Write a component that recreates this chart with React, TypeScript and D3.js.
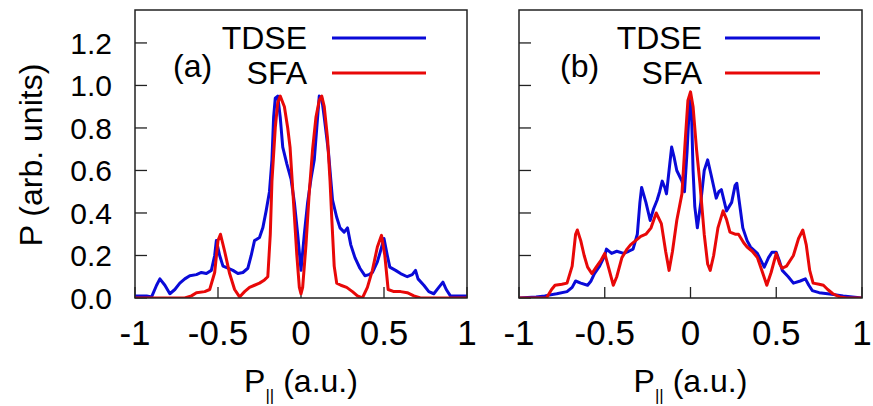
import React, { useEffect, useRef } from 'react';
import * as d3 from 'd3';

const width = 873;
const height = 406;

// [P_parallel, P] pairs
const tdseA: [number, number][] = [
  [-1.0, 0.01], [-0.93, 0.01], [-0.9, 0.005], [-0.87, 0.06], [-0.85, 0.09], [-0.82, 0.06],
  [-0.79, 0.02], [-0.76, 0.04], [-0.73, 0.07], [-0.7, 0.09], [-0.67, 0.105], [-0.63, 0.11],
  [-0.6, 0.12], [-0.57, 0.115], [-0.54, 0.13], [-0.52, 0.2], [-0.51, 0.27], [-0.49, 0.2],
  [-0.47, 0.15], [-0.44, 0.14], [-0.41, 0.13], [-0.38, 0.115], [-0.35, 0.12], [-0.32, 0.14],
  [-0.3, 0.2], [-0.28, 0.27], [-0.25, 0.285], [-0.23, 0.33], [-0.21, 0.41], [-0.19, 0.5],
  [-0.175, 0.65], [-0.165, 0.85], [-0.155, 0.94], [-0.14, 0.95], [-0.125, 0.85], [-0.11, 0.71],
  [-0.085, 0.63], [-0.06, 0.56], [-0.04, 0.45], [-0.02, 0.3], [0.0, 0.13], [0.02, 0.3],
  [0.04, 0.45], [0.06, 0.56], [0.08, 0.65], [0.095, 0.8], [0.11, 0.95], [0.125, 0.94],
  [0.14, 0.85], [0.165, 0.69], [0.19, 0.46], [0.215, 0.38], [0.235, 0.33], [0.26, 0.31],
  [0.28, 0.33], [0.3, 0.25], [0.325, 0.19], [0.355, 0.14], [0.385, 0.105], [0.41, 0.11],
  [0.43, 0.12], [0.46, 0.17], [0.475, 0.21], [0.5, 0.28], [0.52, 0.2], [0.535, 0.145],
  [0.57, 0.13], [0.6, 0.115], [0.64, 0.1], [0.67, 0.11], [0.69, 0.13], [0.705, 0.09],
  [0.74, 0.06], [0.77, 0.03], [0.8, 0.02], [0.83, 0.05], [0.855, 0.075], [0.875, 0.04],
  [0.9, 0.01], [0.95, 0.01], [1.0, 0.01],
];

const sfaA: [number, number][] = [
  [-1, 0], [-0.7, 0], [-0.66, 0.01], [-0.63, 0.025], [-0.58, 0.03], [-0.55, 0.04],
  [-0.52, 0.12], [-0.5, 0.27], [-0.485, 0.3], [-0.46, 0.22], [-0.43, 0.115], [-0.4, 0.04],
  [-0.37, 0.005], [-0.34, 0.03], [-0.31, 0.05], [-0.28, 0.06], [-0.25, 0.07], [-0.22, 0.085],
  [-0.2, 0.1], [-0.185, 0.3], [-0.175, 0.55], [-0.155, 0.8], [-0.14, 0.92], [-0.125, 0.95],
  [-0.1, 0.9], [-0.08, 0.8], [-0.066, 0.71], [-0.045, 0.45], [-0.025, 0.2], [-0.01, 0.05],
  [0, 0.02], [0.01, 0.05], [0.03, 0.25], [0.05, 0.5], [0.07, 0.7], [0.09, 0.85],
  [0.11, 0.93], [0.125, 0.95], [0.14, 0.9], [0.16, 0.75], [0.175, 0.55], [0.185, 0.38],
  [0.2, 0.15], [0.215, 0.07], [0.24, 0.06], [0.275, 0.05], [0.31, 0.03], [0.34, 0.01],
  [0.37, 0.0], [0.4, 0.05], [0.43, 0.13], [0.46, 0.24], [0.485, 0.295], [0.505, 0.2],
  [0.525, 0.04], [0.56, 0.03], [0.6, 0.03], [0.64, 0.025], [0.68, 0.01], [0.72, 0], [1, 0],
];

const tdseB: [number, number][] = [
  [-1, 0], [-0.9, 0.005], [-0.85, 0.01], [-0.78, 0.02], [-0.72, 0.03], [-0.69, 0.05],
  [-0.67, 0.08], [-0.64, 0.07], [-0.6, 0.06], [-0.58, 0.08], [-0.56, 0.115], [-0.53, 0.15],
  [-0.5, 0.2], [-0.49, 0.23], [-0.46, 0.21], [-0.43, 0.22], [-0.39, 0.21], [-0.36, 0.22],
  [-0.335, 0.23], [-0.31, 0.3], [-0.295, 0.45], [-0.285, 0.52], [-0.26, 0.45], [-0.235, 0.365],
  [-0.215, 0.42], [-0.195, 0.46], [-0.18, 0.5], [-0.165, 0.55], [-0.15, 0.52], [-0.14, 0.49],
  [-0.125, 0.6], [-0.11, 0.71], [-0.095, 0.66], [-0.08, 0.6], [-0.05, 0.55], [-0.035, 0.5],
  [-0.02, 0.69], [-0.005, 0.93], [0.005, 0.9], [0.015, 0.6], [0.025, 0.43], [0.04, 0.33],
  [0.06, 0.45], [0.08, 0.6], [0.1, 0.65], [0.12, 0.58], [0.15, 0.47], [0.165, 0.5],
  [0.18, 0.51], [0.21, 0.41], [0.24, 0.45], [0.26, 0.53], [0.27, 0.54], [0.29, 0.42],
  [0.305, 0.33], [0.33, 0.27], [0.35, 0.24], [0.39, 0.21], [0.43, 0.145], [0.455, 0.19],
  [0.475, 0.215], [0.5, 0.215], [0.52, 0.17], [0.535, 0.13], [0.57, 0.1], [0.6, 0.07],
  [0.64, 0.08], [0.67, 0.09], [0.69, 0.06], [0.71, 0.035], [0.75, 0.025], [0.8, 0.02],
  [0.89, 0.01], [1, 0],
];

const sfaB: [number, number][] = [
  [-1, 0], [-0.84, 0.0], [-0.81, 0.04], [-0.79, 0.06], [-0.75, 0.065], [-0.72, 0.07],
  [-0.69, 0.15], [-0.67, 0.3], [-0.66, 0.32], [-0.64, 0.27], [-0.62, 0.2], [-0.6, 0.145],
  [-0.575, 0.115], [-0.55, 0.145], [-0.52, 0.18], [-0.5, 0.21], [-0.48, 0.15], [-0.45, 0.06],
  [-0.43, 0.1], [-0.4, 0.19], [-0.37, 0.23], [-0.35, 0.25], [-0.32, 0.27], [-0.29, 0.29],
  [-0.26, 0.3], [-0.23, 0.33], [-0.2, 0.4], [-0.17, 0.35], [-0.145, 0.22], [-0.125, 0.13],
  [-0.105, 0.22], [-0.08, 0.365], [-0.05, 0.49], [-0.03, 0.75], [-0.015, 0.93], [0.0, 0.97],
  [0.015, 0.9], [0.035, 0.7], [0.055, 0.54], [0.08, 0.3], [0.1, 0.16], [0.115, 0.13],
  [0.135, 0.2], [0.16, 0.33], [0.19, 0.41], [0.21, 0.37], [0.23, 0.31], [0.26, 0.3],
  [0.28, 0.3], [0.31, 0.26], [0.33, 0.24], [0.36, 0.22], [0.39, 0.19], [0.42, 0.12],
  [0.445, 0.06], [0.47, 0.12], [0.5, 0.21], [0.52, 0.16], [0.535, 0.14], [0.56, 0.15],
  [0.6, 0.2], [0.63, 0.28], [0.655, 0.32], [0.675, 0.25], [0.695, 0.13], [0.715, 0.07],
  [0.75, 0.065], [0.775, 0.06], [0.8, 0.04], [0.83, 0.02], [0.87, 0.005], [0.91, 0], [1, 0],
];

const yTicks = [0, 0.2, 0.4, 0.6, 0.8, 1.0, 1.2];
const xTicks = [-1, -0.5, 0, 0.5, 1];
const seriesNames = ['TDSE', 'SFA'];
const panelLabels = ['(a)', '(b)'];

const blue = '#0a0ad8';
const red = '#e80808';
const font = '"Liberation Sans", Arial, Helvetica, sans-serif';
const ink = '#222';

const panels = [
  { left: 135, right: 467, label: panelLabels[0], tdse: tdseA, sfa: sfaA, yLabels: true, textRight: 307, labelX: 173, lineX: [332, 426] },
  { left: 519, right: 862, label: panelLabels[1], tdse: tdseB, sfa: sfaB, yLabels: false, textRight: 702, labelX: 560, lineX: [725, 820] },
];

const top = 10;
const bottom = 298;

const App = () => {
  const svgRef = useRef<SVGSVGElement>(null);

  useEffect(() => {
    const svg = d3.select(svgRef.current);
    svg.selectAll('*').remove();

    const yScale = d3.scaleLinear().domain([0, 1.355]).range([bottom, top]);

    panels.forEach((p, i) => {
      const xScale = d3.scaleLinear().domain([-1, 1]).range([p.left, p.right]);
      const g = svg.append('g');

      const clipId = `clip${i}`;
      svg.append('clipPath').attr('id', clipId)
        .append('rect')
        .attr('x', p.left).attr('y', top)
        .attr('width', p.right - p.left).attr('height', bottom - top);

      // y ticks (inward)
      g.selectAll('.yt').data(yTicks).enter().append('line')
        .attr('x1', p.left).attr('x2', p.left + 12)
        .attr('y1', d => yScale(d)).attr('y2', d => yScale(d))
        .attr('stroke', ink).attr('stroke-width', 1.3);

      if (p.yLabels) {
        g.selectAll('.yl').data(yTicks).enter().append('text')
          .attr('x', 112).attr('y', d => yScale(d))
          .attr('dy', '0.36em')
          .attr('text-anchor', 'end')
          .attr('font-family', font).attr('font-size', 30)
          .attr('fill', '#000')
          .text(d => d.toFixed(1));
      }

      // x ticks (inward)
      g.selectAll('.xt').data(xTicks).enter().append('line')
        .attr('x1', d => xScale(d)).attr('x2', d => xScale(d))
        .attr('y1', bottom).attr('y2', bottom - 11)
        .attr('stroke', ink).attr('stroke-width', 1.3);

      g.selectAll('.xl').data(xTicks).enter().append('text')
        .attr('x', d => xScale(d)).attr('y', 345)
        .attr('text-anchor', 'middle')
        .attr('font-family', font).attr('font-size', 35)
        .attr('fill', '#000')
        .text(d => String(d));

      const line = d3.line<[number, number]>()
        .x(d => xScale(d[0]))
        .y(d => yScale(d[1]));

      g.append('path').datum(p.tdse)
        .attr('clip-path', `url(#${clipId})`)
        .attr('fill', 'none').attr('stroke', blue).attr('stroke-width', 3)
        .attr('stroke-linejoin', 'round')
        .attr('d', line);

      g.append('path').datum(p.sfa)
        .attr('clip-path', `url(#${clipId})`)
        .attr('fill', 'none').attr('stroke', red).attr('stroke-width', 3)
        .attr('stroke-linejoin', 'round')
        .attr('d', line);

      // frame
      g.append('rect')
        .attr('x', p.left).attr('y', top)
        .attr('width', p.right - p.left).attr('height', bottom - top)
        .attr('fill', 'none').attr('stroke', ink).attr('stroke-width', 1.5);

      // legend
      const legendY = [38, 73];
      seriesNames.forEach((name, k) => {
        g.append('text')
          .attr('x', p.textRight).attr('y', legendY[k] + 11)
          .attr('text-anchor', 'end')
          .attr('font-family', font).attr('font-size', 32)
          .attr('fill', '#000')
          .text(name);
        g.append('line')
          .attr('x1', p.lineX[0]).attr('x2', p.lineX[1])
          .attr('y1', legendY[k]).attr('y2', legendY[k])
          .attr('stroke', k === 0 ? blue : red).attr('stroke-width', 3);
      });

      g.append('text')
        .attr('x', p.labelX).attr('y', 77)
        .attr('font-family', font).attr('font-size', 32)
        .attr('fill', '#000')
        .text(p.label);

      // x axis title
      const xt = g.append('text')
        .attr('x', (p.left + p.right) / 2).attr('y', 392)
        .attr('text-anchor', 'middle')
        .attr('font-family', font).attr('font-size', 32)
        .attr('fill', '#000');
      xt.append('tspan').text('P');
      xt.append('tspan').attr('font-size', 17).attr('dy', 9).text('||');
      xt.append('tspan').attr('dy', -9).text(' (a.u.)');
    });

    svg.append('text')
      .attr('transform', 'translate(42,155) rotate(-90)')
      .attr('text-anchor', 'middle')
      .attr('font-family', font).attr('font-size', 32)
      .attr('fill', '#000')
      .text('P (arb. units)');
  }, []);

  return (
    <svg ref={svgRef} width={width} height={height}
      style={{ position: 'absolute', left: 0, top: 0, background: '#fff' }} />
  );
};

export default App;
